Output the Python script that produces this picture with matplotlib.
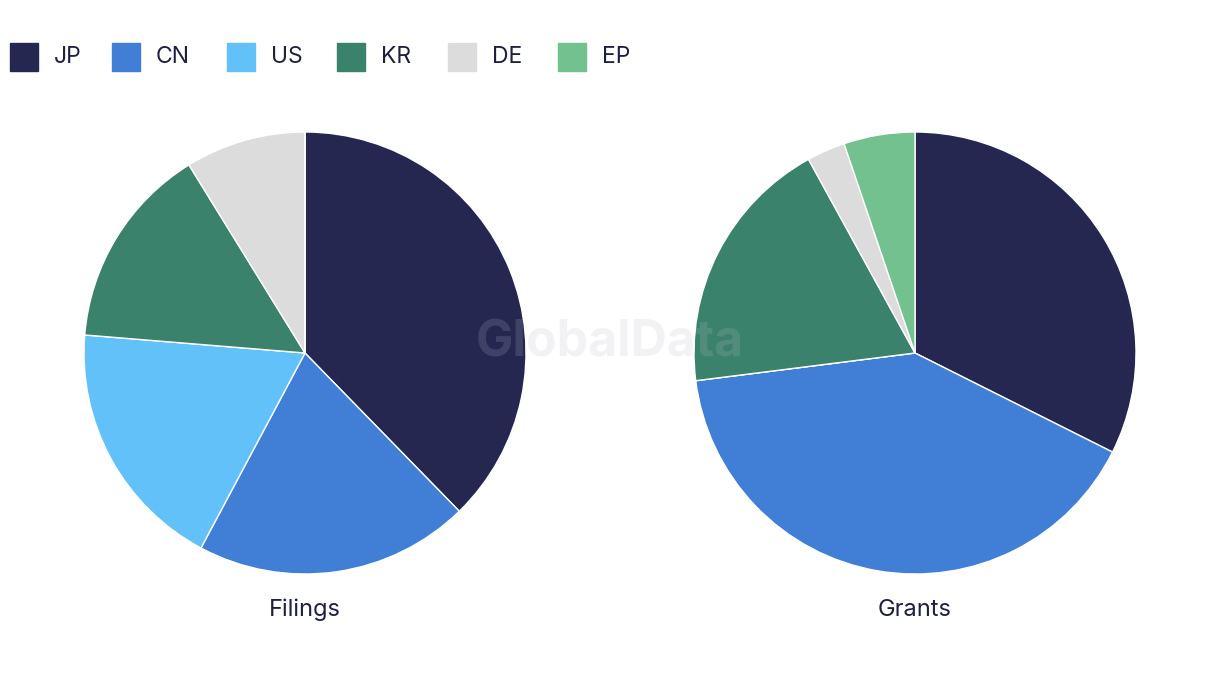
import matplotlib
matplotlib.use("Agg")
import matplotlib.pyplot as plt
from matplotlib.patches import Rectangle

plt.rcParams['font.family'] = ['Inter', 'DejaVu Sans']

# categories and colours
countries = ["JP", "CN", "US", "KR", "DE", "EP"]
colors = ["#262750", "#417ED6", "#63C1FA", "#3A826B", "#DCDCDC", "#72C18F"]

# shares (%)
filings = [37.7, 20.1, 18.5, 14.9, 8.8, 0.0]
grants = [32.4, 40.6, 0.0, 19.0, 2.8, 5.2]

W, H = 1220, 686
fig = plt.figure(figsize=(W / 100, H / 100), dpi=100)

def add_pie(cx, cy, r, values, title):
    ax = fig.add_axes([(cx - r) / W, 1 - (cy + r) / H, 2 * r / W, 2 * r / H])
    ax.pie(values, colors=colors, startangle=90, counterclock=False,
           wedgeprops=dict(edgecolor="white", linewidth=1))
    ax.set_aspect("equal")
    ax.set_xlim(-1, 1)
    ax.set_ylim(-1, 1)
    fig.text(cx / W, 1 - 610 / H, title, ha="center", va="center",
             fontsize=17, color="#1F2040")

add_pie(305, 353, 221, filings, "Filings")
add_pie(915, 353, 221, grants, "Grants")

# legend
box_x = [10, 112, 227, 337, 448, 558]
for x, name, c in zip(box_x, countries, colors):
    fig.add_artist(Rectangle((x / W, 1 - 71 / H), 28 / W, 28 / H,
                             transform=fig.transFigure, color=c))
    fig.text((x + 44) / W, 1 - 57 / H, name, ha="left", va="center",
             fontsize=16.5, color="#1F2040")

# watermark
fig.text(610 / W, 1 - 343 / H, "GlobalData", ha="center", va="center",
         fontsize=36, fontweight="bold", color="#BBBBCC", alpha=0.18)

fig.savefig("out.png", dpi=100)
